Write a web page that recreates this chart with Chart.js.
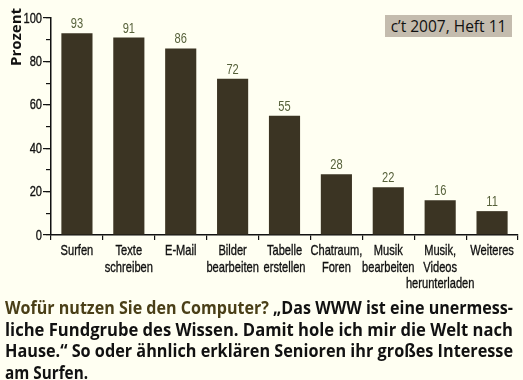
<!DOCTYPE html>
<html>
<head>
<meta charset="utf-8">
<script src="https://cdn.jsdelivr.net/npm/chart.js@4"></script>
<style>
  html, body { margin: 0; padding: 0; background: #fffff2; }
  #wrap { position: relative; width: 523px; height: 380px; overflow: hidden; }
  #chartBox { position: absolute; left: 0; top: 0; width: 523px; height: 300px; }
  #yTitle {
    position: absolute; left: 5px; top: 10px; width: 20px; height: 56px;
    font: bold 15px "Open Sans", sans-serif; color: #111;
    writing-mode: vertical-rl; transform: rotate(180deg);
    text-align: center; line-height: 20px;
  }
  #source {
    position: absolute; left: 385px; top: 15px; width: 127px; height: 22px;
    background: #c4bcae; color: #111;
    font: 15.5px "Open Sans", sans-serif; line-height: 22px; text-align: center;
    white-space: nowrap;
  }
  #caption {
    position: absolute; left: 5px; top: 297px; width: 510px;
    font: bold 17px "Open Sans", sans-serif; color: #111; line-height: 21.5px;
  }
  #caption .ln { display: block; white-space: nowrap; transform-origin: 0 0; }
  #caption .hd { color: #4a3f17; }
</style>
</head>
<body>
<div id="wrap">
  <div id="chartBox"><canvas id="c"></canvas></div>
  <div id="yTitle">Prozent</div>
  <div id="source">c’t 2007, Heft 11</div>
  <div id="caption">
    <span class="ln fit"><span class="hd">Wofür nutzen Sie den Computer?</span> „Das WWW ist eine unermess-</span>
    <span class="ln fit">liche Fundgrube des Wissen. Damit hole ich mir die Welt nach</span>
    <span class="ln fit">Hause.“ So oder ähnlich erklären Senioren ihr großes Interesse</span>
    <span class="ln">am Surfen.</span>
  </div>
</div>
<script>
// ── Data ─────────────────────────────────────────────────────────
const CATEGORIES = [
  "Surfen",
  ["Texte", "schreiben"],
  "E-Mail",
  ["Bilder", "bearbeiten"],
  ["Tabelle", "erstellen"],
  ["Chatraum,", "Foren"],
  ["Musik", "bearbeiten"],
  ["Musik,", "Videos", "herunterladen"],
  "Weiteres",
];
const PERCENT = [93, 91, 86, 72, 55, 28, 22, 16, 11];

const FONT = "'Liberation Sans', Arial, sans-serif";
const SQUEEZE = 0.74;         // the print uses a condensed face
const BAR_COLOR = "#3b3423";
const LABEL_COLOR = "#56613a";
const INK = "#111";

// draw text squeezed horizontally (thin stroke gives the heavier print look)
function narrowText(ctx, text, x, y, align, weight) {
  ctx.save();
  ctx.translate(x, y);
  ctx.scale(SQUEEZE, 1);
  ctx.textAlign = align;
  ctx.fillText(text, 0, 0);
  if (weight) {
    ctx.lineWidth = weight;
    ctx.strokeStyle = ctx.fillStyle;
    ctx.strokeText(text, 0, 0);
  }
  ctx.restore();
}

// value labels above the bars + condensed axis labels
const condensedText = {
  id: "condensedText",
  afterDraw(chart) {
    const ctx = chart.ctx;
    const xs = chart.scales.x, ys = chart.scales.y;
    ctx.save();

    // bar values
    ctx.font = "15px " + FONT;
    ctx.fillStyle = LABEL_COLOR;
    ctx.textBaseline = "alphabetic";
    chart.getDatasetMeta(0).data.forEach((bar, i) => {
      narrowText(ctx, String(PERCENT[i]), bar.x, bar.y - 5, "center", 0);
    });

    // category labels
    ctx.font = "15px " + FONT;
    ctx.fillStyle = INK;
    CATEGORIES.forEach((lab, i) => {
      const lines = Array.isArray(lab) ? lab : [lab];
      const x = xs.getPixelForValue(i);
      lines.forEach((ln, k) => narrowText(ctx, ln, x, xs.top + 20 + k * 16.5, "center", 0.35));
    });

    // y tick labels
    ctx.font = "15px " + FONT;
    ctx.textBaseline = "middle";
    ys.ticks.forEach(t => {
      narrowText(ctx, String(t.value), ys.right - 9, ys.getPixelForValue(t.value) + 0.5, "right", 0.35);
    });
    ctx.restore();
  },
};

new Chart(document.getElementById("c"), {
  type: "bar",
  data: {
    labels: CATEGORIES,
    datasets: [{
      data: PERCENT,
      backgroundColor: BAR_COLOR,
      borderWidth: 0,
      categoryPercentage: 1,
      barPercentage: 0.6,
    }],
  },
  options: {
    responsive: true,
    maintainAspectRatio: false,
    animation: false,
    layout: { padding: { left: 0, right: 5, top: 18, bottom: 0 } },
    plugins: { legend: { display: false }, tooltip: { enabled: false } },
    scales: {
      // long ticks every 20 (labels drawn by condensedText)
      y: {
        min: 0, max: 100,
        weight: 0,
        afterFit: s => { s.width = 51; },
        border: { color: INK, width: 1.5 },
        grid: { drawOnChartArea: false, tickLength: 8, color: INK, lineWidth: 1.2 },
        ticks: { stepSize: 20, display: false },
      },
      // short minor ticks every 10
      y2: {
        min: 0, max: 100,
        position: "left",
        weight: -1,
        afterFit: s => { s.width = 0; },
        border: { display: false },
        grid: { drawOnChartArea: false, tickLength: 5, color: INK, lineWidth: 1.2 },
        ticks: { stepSize: 10, display: false },
      },
      x: {
        afterFit: s => { s.height = 65; },
        border: { color: INK, width: 1.5 },
        grid: { offset: true, drawOnChartArea: false, tickLength: 5, color: INK, lineWidth: 1.2 },
        ticks: { display: false, autoSkip: false },
      },
    },
  },
  plugins: [condensedText],
});

// squeeze caption lines to the column width
document.querySelectorAll("#caption .fit").forEach(el => {
  el.style.display = "inline-block";
  const w = el.getBoundingClientRect().width;
  el.style.transform = `scaleX(${508 / w})`;
  el.style.display = "block";
});
document.querySelectorAll("#caption .ln:not(.fit)").forEach(el => {
  el.style.transform = "scaleX(0.9)";
});
</script>
</body>
</html>
